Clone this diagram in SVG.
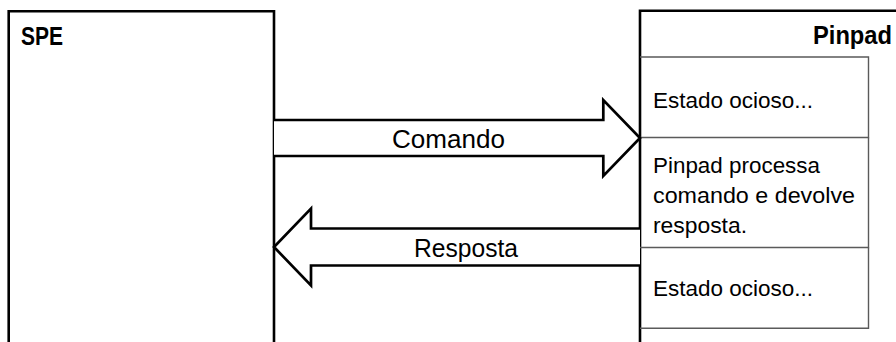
<svg xmlns="http://www.w3.org/2000/svg" width="896" height="342" viewBox="0 0 896 342">
  <style>
    .frame { fill: none; stroke: #000; stroke-width: 2.6; }
    .cell { fill: none; stroke: #5a5a5a; stroke-width: 1.4; }
    .arrow { fill: #fff; stroke: #000; stroke-width: 2.7; stroke-linejoin: miter; }
    .title { font-family: "Liberation Sans", Arial, sans-serif; font-weight: bold; font-size: 25px; fill: #000; }
    .lbl { font-family: "Liberation Sans", Arial, sans-serif; font-size: 25px; fill: #000; }
    .state { font-family: "Liberation Sans", Arial, sans-serif; font-size: 22px; fill: #000; }
  </style>
  <rect width="896" height="342" fill="#fff"/>

  <!-- SPE lifeline box (runs off the bottom) -->
  <g id="spe">
    <path class="frame" d="M8.7,343 V11.3 H274 V343"/>
    <text class="title" x="21" y="44.5" textLength="42" lengthAdjust="spacingAndGlyphs">SPE</text>
  </g>

  <!-- Pinpad lifeline box (runs off the right and bottom) -->
  <g id="pinpad">
    <path class="frame" d="M640,343 V10.7 H898"/>
    <text class="title" x="813" y="44" textLength="79" lengthAdjust="spacingAndGlyphs">Pinpad</text>
  </g>

  <!-- Pinpad states -->
  <g id="state-idle-1">
    <path class="cell" d="M640,57 H868.5 V137.5 H640"/>
    <text class="state" x="653" y="107.5" textLength="160" lengthAdjust="spacingAndGlyphs">Estado ocioso...</text>
  </g>
  <g id="state-processing">
    <path class="cell" d="M868.5,137.5 V247.5 H640"/>
    <text class="state" x="653" y="172.5" textLength="167" lengthAdjust="spacingAndGlyphs">Pinpad processa</text>
    <text class="state" x="653" y="202.5" textLength="202" lengthAdjust="spacingAndGlyphs">comando e devolve</text>
    <text class="state" x="653" y="232.5" textLength="94" lengthAdjust="spacingAndGlyphs">resposta.</text>
  </g>
  <g id="state-idle-2">
    <path class="cell" d="M868.5,247.5 V328.3 H640"/>
    <text class="state" x="653" y="296" textLength="160" lengthAdjust="spacingAndGlyphs">Estado ocioso...</text>
  </g>

  <!-- Messages -->
  <g id="connectors">
    <g id="msg-comando">
      <path class="arrow" d="M274,120 H603.3 V100 L640,138 L603.3,176 V156 H274"/>
      <text class="lbl" x="392" y="148" textLength="113" lengthAdjust="spacingAndGlyphs">Comando</text>
    </g>
    <g id="msg-resposta">
      <path class="arrow" d="M640,228.5 H311 V208.5 L274,247 L311,285.5 V265.5 H640"/>
      <text class="lbl" x="414" y="256.7" textLength="104" lengthAdjust="spacingAndGlyphs">Resposta</text>
    </g>
  </g>
</svg>
